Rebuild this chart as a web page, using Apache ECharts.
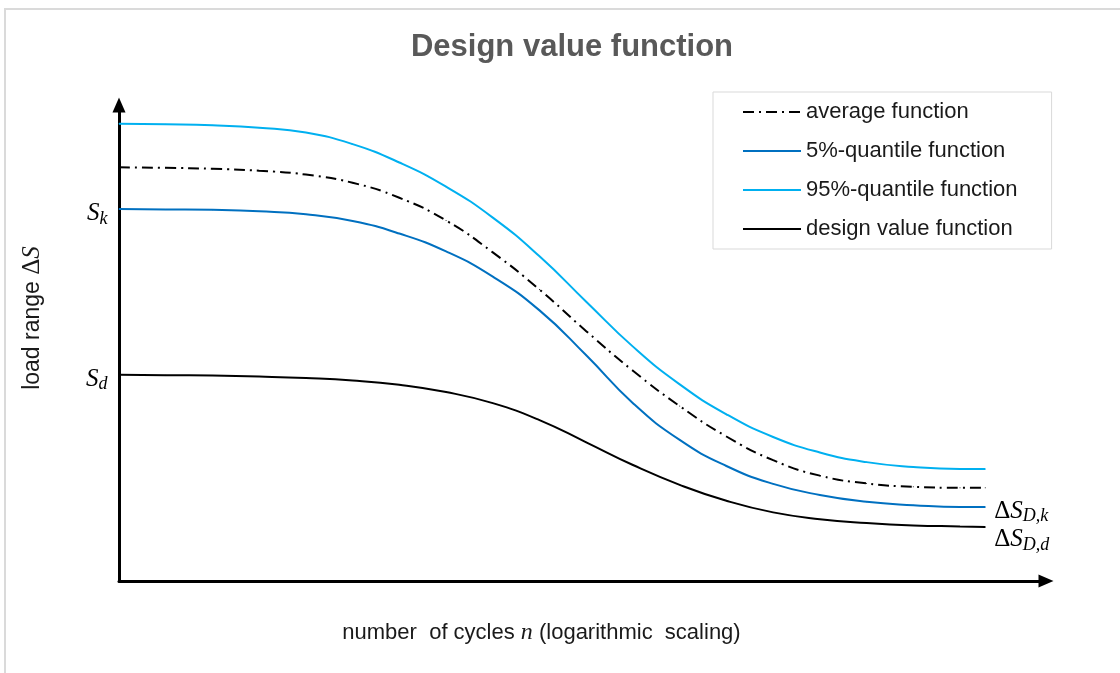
<!DOCTYPE html>
<html>
<head>
<meta charset="utf-8">
<title>Design value function</title>
<script src="https://cdn.jsdelivr.net/npm/echarts@6/dist/echarts.min.js"></script>
<style>
  html, body { margin: 0; padding: 0; background: #fff; }
  #chart { position: absolute; left: 0; top: 0; width: 1120px; height: 673px; }
  .frame { position: absolute; left: 4px; top: 8px; right: 0; bottom: 0;
           border-left: 2px solid #dadada; border-top: 2px solid #dadada; pointer-events: none; }
</style>
</head>
<body>
<div id="chart"></div>
<div class="frame"></div>
<script>
// x = log of number of cycles (arbitrary units), y = load range (arbitrary units)
const xs     = [0, 0.5, 1, 1.5, 2, 2.5, 3, 3.5, 4, 4.5, 5, 5.5, 6, 6.5, 7, 7.5, 8, 8.5, 9, 9.27];
const q95    = [9.46, 9.45, 9.43, 9.38, 9.28, 9.04, 8.66, 8.16, 7.52, 6.72, 5.78, 4.85, 4.07, 3.45, 2.98, 2.66, 2.46, 2.36, 2.32, 2.32];
const avg    = [8.56, 8.55, 8.53, 8.49, 8.41, 8.24, 7.93, 7.46, 6.80, 6.03, 5.17, 4.35, 3.62, 2.99, 2.50, 2.18, 2.02, 1.95, 1.93, 1.93];
const q05    = [7.70, 7.69, 7.68, 7.65, 7.59, 7.45, 7.19, 6.82, 6.30, 5.60, 4.67, 3.68, 2.92, 2.38, 2.01, 1.78, 1.64, 1.57, 1.53, 1.53];
const design = [4.27, 4.26, 4.25, 4.23, 4.20, 4.15, 4.06, 3.91, 3.68, 3.33, 2.87, 2.40, 1.99, 1.66, 1.42, 1.28, 1.20, 1.15, 1.13, 1.12];

const names = ['average function', '5%-quantile function', '95%-quantile function', 'design value function'];

const serif = 'Liberation Serif';
const sans = 'Liberation Sans';

// rich styles for the math-like labels
const mathRich = {
  d: { fontFamily: serif, fontSize: 25, color: '#000', lineHeight: 28 },
  s: { fontFamily: serif, fontStyle: 'italic', fontSize: 25, color: '#000', lineHeight: 28 },
  sub: { fontFamily: serif, fontStyle: 'italic', fontSize: 18, color: '#000', lineHeight: 28, verticalAlign: 'bottom', padding: [11, 0, 0, 0] }
};

function pts(ys, startLabel) {
  return xs.map((x, i) => {
    const item = { value: [x, ys[i]] };
    if (i === 0 && startLabel) {
      item.label = {
        show: true, position: 'left', distance: 11, offset: [0, 5],
        formatter: startLabel, rich: mathRich
      };
    }
    return item;
  });
}

const base = {
  type: 'line',
  smooth: true,
  showSymbol: true,
  symbol: 'circle',
  symbolSize: 1,
  silent: true
};

const chart = echarts.init(document.getElementById('chart'));
chart.setOption({
  animation: false,
  backgroundColor: '#fff',
  title: {
    text: 'Design value function',
    left: 567,
    textAlign: 'center',
    top: 27,
    textStyle: { fontFamily: sans, fontWeight: 'bold', fontSize: 31, color: '#595959' }
  },
  legend: {
    data: names,
    orient: 'vertical',
    left: 713,
    top: 92,
    padding: [9, 34, 9, 29],
    itemGap: 17,
    itemWidth: 58,
    itemHeight: 14,
    borderColor: '#d9d9d9',
    borderWidth: 1,
    backgroundColor: '#fff',
    itemStyle: { opacity: 0 },
    textStyle: { fontFamily: sans, fontSize: 22, color: '#1a1a1a', lineHeight: 20 }
  },
  grid: { left: 119, right: 74, top: 105, bottom: 92 },
  xAxis: {
    type: 'value', min: 0, max: 9.92,
    name: '{t|number  of cycles }{n|n}{t| (logarithmic  scaling)}',
    nameLocation: 'middle',
    nameGap: 40,
    nameTextStyle: {
      padding: [0, 82, 0, 0],
      rich: {
        t: { fontFamily: sans, fontSize: 22, color: '#1a1a1a' },
        n: { fontFamily: serif, fontStyle: 'italic', fontSize: 24, color: '#1a1a1a' }
      }
    },
    axisLine: { show: true, symbol: ['none', 'triangle'], symbolSize: [13, 15], lineStyle: { color: '#000', width: 3 } },
    axisTick: { show: false }, axisLabel: { show: false }, splitLine: { show: false }
  },
  yAxis: {
    type: 'value', min: 0, max: 9.85,
    name: '{t|load range }{d|Δ}{s|S}',
    nameLocation: 'middle',
    nameRotate: 90,
    nameGap: 74,
    nameTextStyle: {
      padding: [0, 0, 0, 50],
      rich: {
        t: { fontFamily: sans, fontSize: 23, color: '#1a1a1a' },
        d: { fontFamily: serif, fontSize: 25, color: '#1a1a1a' },
        s: { fontFamily: serif, fontStyle: 'italic', fontSize: 25, color: '#1a1a1a' }
      }
    },
    axisLine: { show: true, symbol: ['none', 'triangle'], symbolSize: [13, 15], lineStyle: { color: '#000', width: 3 } },
    axisTick: { show: false }, axisLabel: { show: false }, splitLine: { show: false }
  },
  series: [
    Object.assign({}, base, {
      name: names[2], data: pts(q95), z: 3,
      itemStyle: { color: '#00b0f0' },
      lineStyle: { color: '#00b0f0', width: 2 }
    }),
    Object.assign({}, base, {
      name: names[0], data: pts(avg), z: 3,
      itemStyle: { color: '#000' },
      lineStyle: { color: '#000', width: 2, type: [11, 5, 2, 5] }
    }),
    Object.assign({}, base, {
      name: names[1], data: pts(q05, '{s|S}{sub|k}'), z: 3,
      itemStyle: { color: '#0070c0' },
      lineStyle: { color: '#0070c0', width: 2 },
      endLabel: {
        show: true, distance: 9, offset: [0, 4],
        formatter: '{d|Δ}{s|S}{sub|D,k}', rich: mathRich
      }
    }),
    Object.assign({}, base, {
      name: names[3], data: pts(design, '{s|S}{sub|d}'), z: 3,
      itemStyle: { color: '#000' },
      lineStyle: { color: '#000', width: 2 },
      endLabel: {
        show: true, distance: 9, offset: [0, 13],
        formatter: '{d|Δ}{s|S}{sub|D,d}', rich: mathRich
      }
    })
  ]
});
</script>
</body>
</html>
